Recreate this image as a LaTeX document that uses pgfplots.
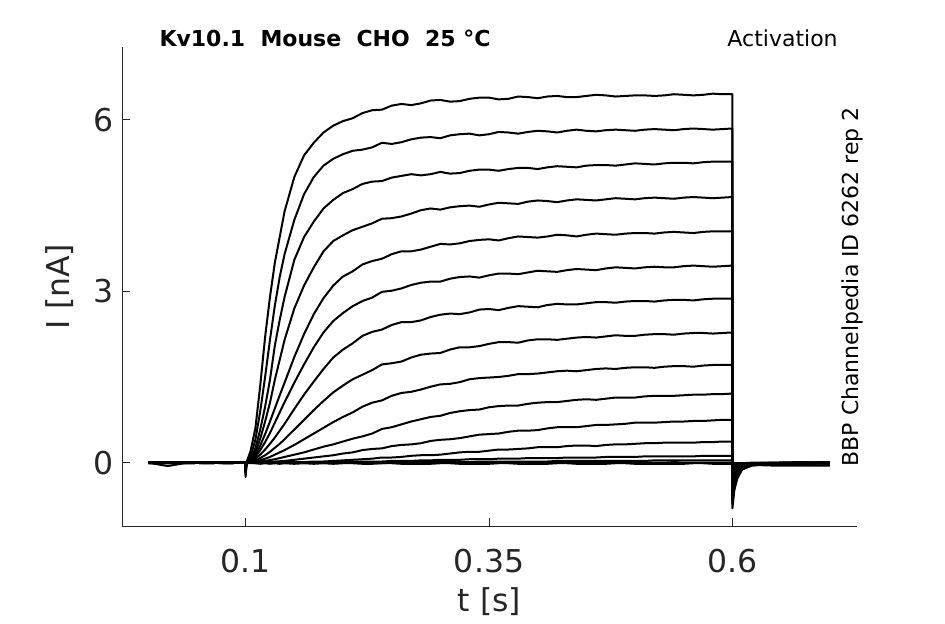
\documentclass[border=0pt]{standalone}
\usepackage{fontspec}
\setmainfont{DejaVu Sans}
\usepackage{pgfplots}
\usepackage{pgfplotstable}
\pgfplotsset{compat=1.18}
\definecolor{axgray}{HTML}{262626}
\pgfplotstableread{
t a1 a2 a3 a4 a5 a6 a7 a8 a9 a10 a11 a12 a13 a14 a15 a16
0 0.00 0.01 -0.01 0.00 0.01 0.00 -0.01 0.00 0.01 0.00 -0.01 0.00 0.01 0.00 -0.01 0.00
0.02 -0.06 0.01 0.00 -0.01 0.00 0.01 0.00 -0.01 0.00 0.01 0.00 0.00 0.01 0.00 -0.01 0.00
0.04 0.00 -0.01 0.01 0.00 -0.01 0.00 0.01 0.00 -0.01 0.00 0.01 0.00 -0.01 0.00 0.01 0.00
0.06 0.01 0.00 -0.01 0.01 0.00 -0.01 0.00 0.01 0.00 -0.01 0.00 0.01 0.00 -0.01 0.00 0.01
0.08 -0.01 0.01 0.00 -0.01 0.01 0.00 -0.01 0.00 0.01 0.00 -0.01 0.00 0.01 0.00 0.00 -0.01
0.0995 0 0 0 0 0 0 0 0 0 0 0 0 0 0 0 0
0.1 -0.25 -0.22 -0.20 -0.18 -0.16 -0.14 -0.12 -0.10 -0.10 -0.08 -0.08 -0.06 -0.06 -0.05 -0.05 -0.05
0.101 0.01 0.01 0.01 0.01 0 0 0 0 0 0 0 0 0 0 0 -0.01
0.105 0.20 0.10 0.06 0.05 0.04 0.03 0.02 0.01 0.01 0.00 0.00 0.00 0.00 0.00 0.00 -0.01
0.11 0.60 0.40 0.25 0.18 0.13 0.10 0.07 0.04 0.02 0.01 0.00 0.00 0.00 0.01 -0.01 -0.01
0.115 1.35 0.90 0.58 0.42 0.30 0.22 0.14 0.08 0.04 0.02 0.01 0.00 0.00 0.00 0.00 -0.02
0.12 2.20 1.50 0.98 0.72 0.50 0.36 0.23 0.13 0.07 0.03 0.01 0.00 0.00 0.00 0.01 -0.01
0.125 2.90 2.15 1.45 1.05 0.72 0.52 0.33 0.19 0.10 0.045 0.015 0.00 0.00 0.01 0.00 -0.02
0.13 3.50 2.75 2.05 1.45 0.95 0.70 0.44 0.26 0.14 0.06 0.02 0.00 0.00 0.00 0.00 -0.01
0.135 3.95 3.25 2.50 1.80 1.18 0.88 0.56 0.33 0.18 0.08 0.025 0.00 0.00 0.00 -0.01 -0.02
0.14 4.40 3.65 2.90 2.15 1.40 1.06 0.68 0.41 0.22 0.10 0.03 0.00 0.00 0.01 0.00 -0.01
0.15 5.00 4.25 3.55 2.70 1.85 1.40 0.94 0.58 0.31 0.14 0.05 0.01 0.00 0.00 0.01 -0.02
0.16 5.38 4.70 3.95 3.10 2.25 1.72 1.19 0.75 0.41 0.18 0.07 0.01 0.00 0.00 0.00 -0.01
0.17 5.60 5.00 4.22 3.42 2.60 2.02 1.42 0.92 0.51 0.23 0.09 0.02 0.00 0.01 0.00 -0.02
0.18 5.78 5.20 4.45 3.70 2.88 2.28 1.64 1.08 0.61 0.28 0.11 0.02 0.01 0.00 0.00 -0.01
0.19 5.90 5.32 4.60 3.88 3.10 2.48 1.84 1.23 0.71 0.32 0.13 0.03 0.01 0.00 -0.01 -0.02
0.2 5.98 5.40 4.72 3.98 3.26 2.62 1.98 1.35 0.80 0.37 0.16 0.04 0.01 0.01 0.00 -0.01
0.21 6.03 5.46 4.79 4.07 3.35 2.74 2.09 1.46 0.88 0.42 0.18 0.05 0.02 0.00 0.00 -0.01
0.22 6.12 5.48 4.88 4.13 3.47 2.83 2.22 1.54 0.98 0.46 0.22 0.06 0.02 0.00 0.01 -0.02
0.23 6.17 5.52 4.92 4.19 3.53 2.89 2.29 1.62 1.05 0.51 0.24 0.07 0.02 0.01 0.00 -0.02
0.24 6.18 5.60 4.93 4.27 3.57 2.99 2.33 1.72 1.09 0.59 0.25 0.09 0.02 0.01 -0.01 -0.01
0.25 6.25 5.58 4.99 4.28 3.65 3.01 2.41 1.74 1.17 0.62 0.29 0.09 0.03 0.00 0.00 -0.01
0.26 6.28 5.61 5.02 4.31 3.70 3.05 2.46 1.77 1.22 0.67 0.31 0.10 0.03 0.00 0.00 -0.02
0.27 6.26 5.66 5.05 4.36 3.70 3.11 2.46 1.84 1.24 0.72 0.32 0.12 0.03 0.01 0.00 -0.02
0.28 6.29 5.69 5.03 4.42 3.73 3.15 2.49 1.89 1.28 0.76 0.34 0.13 0.04 0.01 0.01 -0.02
0.29 6.34 5.70 5.05 4.45 3.78 3.17 2.55 1.91 1.33 0.80 0.38 0.13 0.04 0.01 0.01 -0.02
0.30 6.35 5.68 5.09 4.43 3.83 3.17 2.59 1.92 1.37 0.82 0.40 0.14 0.05 0.01 0.00 -0.01
0.31 6.32 5.73 5.06 4.47 3.82 3.22 2.61 1.98 1.38 0.87 0.41 0.16 0.05 0.02 0.00 -0.01
0.32 6.33 5.75 5.07 4.49 3.84 3.25 2.60 2.02 1.41 0.90 0.43 0.18 0.05 0.01 -0.01 -0.02
0.33 6.37 5.76 5.11 4.50 3.88 3.26 2.63 2.02 1.46 0.92 0.46 0.19 0.06 0.01 0.00 -0.02
0.34 6.39 5.73 5.13 4.48 3.90 3.24 2.68 2.04 1.48 0.93 0.49 0.19 0.06 0.02 0.01 -0.02
0.35 6.39 5.75 5.13 4.52 3.91 3.28 2.69 2.08 1.49 0.97 0.50 0.21 0.06 0.02 0.01 -0.02
0.36 6.36 5.79 5.11 4.55 3.89 3.31 2.67 2.11 1.50 0.99 0.51 0.23 0.07 0.02 0.00 -0.01
0.37 6.37 5.78 5.14 4.54 3.93 3.31 2.71 2.11 1.52 1.00 0.54 0.23 0.07 0.02 0.01 -0.01
0.38 6.41 5.76 5.16 4.53 3.96 3.30 2.74 2.10 1.55 1.00 0.56 0.24 0.07 0.02 0.00 -0.02
0.39 6.40 5.79 5.16 4.57 3.95 3.33 2.73 2.14 1.55 1.03 0.56 0.25 0.08 0.02 0.00 -0.02
0.40 6.38 5.81 5.14 4.59 3.94 3.36 2.72 2.16 1.56 1.05 0.57 0.27 0.08 0.02 0.01 -0.02
0.41 6.41 5.80 5.17 4.58 3.96 3.35 2.76 2.16 1.58 1.06 0.60 0.27 0.08 0.02 0.00 -0.02
0.42 6.42 5.78 5.19 4.56 3.99 3.34 2.78 2.15 1.60 1.06 0.62 0.27 0.08 0.03 0.00 -0.01
0.43 6.40 5.81 5.18 4.59 3.98 3.37 2.77 2.17 1.61 1.08 0.62 0.29 0.09 0.03 0.00 -0.01
0.44 6.40 5.83 5.17 4.61 3.96 3.39 2.77 2.19 1.60 1.10 0.62 0.30 0.09 0.03 -0.01 -0.02
0.45 6.42 5.81 5.20 4.60 3.99 3.38 2.79 2.20 1.62 1.11 0.64 0.30 0.09 0.03 0.00 -0.02
0.46 6.44 5.80 5.21 4.59 4.01 3.37 2.81 2.19 1.64 1.10 0.66 0.29 0.09 0.03 0.00 -0.02
0.47 6.43 5.82 5.21 4.61 4.00 3.40 2.81 2.21 1.65 1.12 0.66 0.31 0.10 0.03 0.00 -0.02
0.48 6.41 5.83 5.20 4.63 3.99 3.42 2.80 2.23 1.64 1.14 0.67 0.32 0.10 0.03 0.01 -0.01
0.49 6.42 5.82 5.22 4.62 4.01 3.41 2.82 2.22 1.66 1.14 0.68 0.32 0.10 0.03 0.01 -0.01
0.50 6.43 5.81 5.24 4.61 4.02 3.40 2.83 2.22 1.67 1.14 0.70 0.33 0.10 0.03 0.00 -0.02
0.51 6.43 5.83 5.23 4.63 4.02 3.42 2.83 2.24 1.67 1.16 0.70 0.34 0.11 0.03 0.00 -0.02
0.52 6.42 5.84 5.22 4.64 4.01 3.43 2.82 2.25 1.66 1.17 0.70 0.34 0.11 0.04 0.00 -0.02
0.53 6.43 5.83 5.24 4.63 4.03 3.42 2.84 2.25 1.68 1.17 0.71 0.35 0.11 0.04 0.00 -0.02
0.54 6.45 5.82 5.25 4.62 4.04 3.42 2.85 2.24 1.69 1.17 0.72 0.35 0.11 0.04 0.01 -0.02
0.55 6.44 5.84 5.25 4.64 4.03 3.44 2.85 2.26 1.69 1.18 0.72 0.35 0.11 0.04 0.00 -0.02
0.56 6.43 5.85 5.24 4.65 4.02 3.45 2.84 2.27 1.68 1.19 0.73 0.35 0.11 0.04 0.00 -0.01
0.57 6.44 5.84 5.26 4.64 4.04 3.44 2.86 2.27 1.70 1.19 0.73 0.36 0.12 0.04 0.00 -0.01
0.58 6.46 5.83 5.27 4.63 4.05 3.43 2.87 2.26 1.71 1.20 0.74 0.36 0.12 0.04 0.00 -0.02
0.59 6.45 5.84 5.27 4.64 4.05 3.44 2.87 2.27 1.71 1.20 0.75 0.37 0.12 0.04 0.00 -0.02
0.60 6.45 5.85 5.27 4.65 4.05 3.45 2.87 2.28 1.71 1.21 0.75 0.37 0.12 0.04 0.00 -0.02
0.60 -0.80 -0.72 -0.65 -0.58 -0.50 -0.43 -0.36 -0.28 -0.21 -0.15 -0.09 -0.05 -0.02 -0.01 -0.01 -0.02
0.602 -0.48 -0.43 -0.39 -0.35 -0.30 -0.26 -0.22 -0.17 -0.13 -0.09 -0.06 -0.04 -0.02 -0.01 -0.01 -0.02
0.605 -0.28 -0.25 -0.23 -0.20 -0.18 -0.15 -0.13 -0.10 -0.08 -0.06 -0.04 -0.03 -0.02 -0.01 -0.01 -0.02
0.61 -0.12 -0.11 -0.10 -0.09 -0.08 -0.07 -0.06 -0.05 -0.04 -0.03 -0.03 -0.02 -0.02 -0.01 -0.01 -0.03
0.62 -0.05 -0.05 -0.04 -0.04 -0.04 -0.03 -0.03 -0.03 -0.02 -0.02 -0.02 -0.02 -0.01 -0.01 0.00 -0.04
0.64 -0.02 -0.02 -0.02 -0.02 -0.02 -0.01 -0.01 -0.01 -0.01 -0.01 -0.01 -0.01 -0.01 0.00 0.00 -0.05
0.67 -0.01 -0.02 -0.01 -0.02 -0.01 -0.01 -0.01 -0.01 0.00 -0.01 0.00 -0.01 0.00 0.00 0.01 -0.05
0.70 -0.01 -0.01 0.00 -0.01 -0.02 0.00 -0.01 0.00 -0.01 0.00 0.00 -0.01 0.00 0.01 0.00 -0.05
}\traces

\begin{document}
\begin{tikzpicture}
\begin{axis}[
  scale only axis, width=551.25pt, height=359.25pt,
  xmin=-0.027, xmax=0.728, ymin=-1.109, ymax=7.277,
  axis x line*=bottom, axis y line*=left,
  axis line style={-, draw=axgray, line width=0.75pt},
  tick align=inside, major tick length=6pt,
  tick style={draw=axgray, line width=0.75pt},
  xtick={0.1,0.35,0.6}, xticklabels={0.1,0.35,0.6},
  ytick={0,3,6}, yticklabels={0,3,6},
  /pgf/number format/assume math mode=true,
  ticklabel style={font=\fontsize{23.6}{28}\selectfont, text=axgray},
  xticklabel style={anchor=base, yshift=-34.5pt},
  yticklabel style={anchor=east, xshift=-2.6pt},
  xlabel={t [s]}, ylabel={I [nA]},
  label style={font=\fontsize{23.6}{28}\selectfont, text=axgray},
  xlabel style={at={(axis description cs:0.5,-0.1795)}, anchor=base},
  ylabel style={at={(axis description cs:-0.0721,0.5)}, anchor=base},
  clip=false,
]
\pgfplotsinvokeforeach{1,...,16}{
  \addplot[black, line width=1.5pt, line join=round, mark=none] table[x=t,y=a#1]{\traces};
}
\node[anchor=base west, inner sep=0, font=\bfseries\fontsize{16.5}{20}\selectfont] at (rel axis cs:0.0507,1) {Kv10.1\ \ Mouse\ \ CHO\ \ 25 °C};
\node[anchor=base east, inner sep=0, font=\fontsize{16.5}{20}\selectfont] at (rel axis cs:0.974,1) {Activation};
\node[rotate=90, anchor=base west, inner sep=0, font=\fontsize{16.5}{20}\selectfont] at (rel axis cs:1.0027,0.124) {BBP Channelpedia ID 6262 rep 2};
\end{axis}
\pgfresetboundingbox
\path[use as bounding box] (-91.5pt,-73.5pt) rectangle (617.25pt,394.5pt);
\end{tikzpicture}
\end{document}
